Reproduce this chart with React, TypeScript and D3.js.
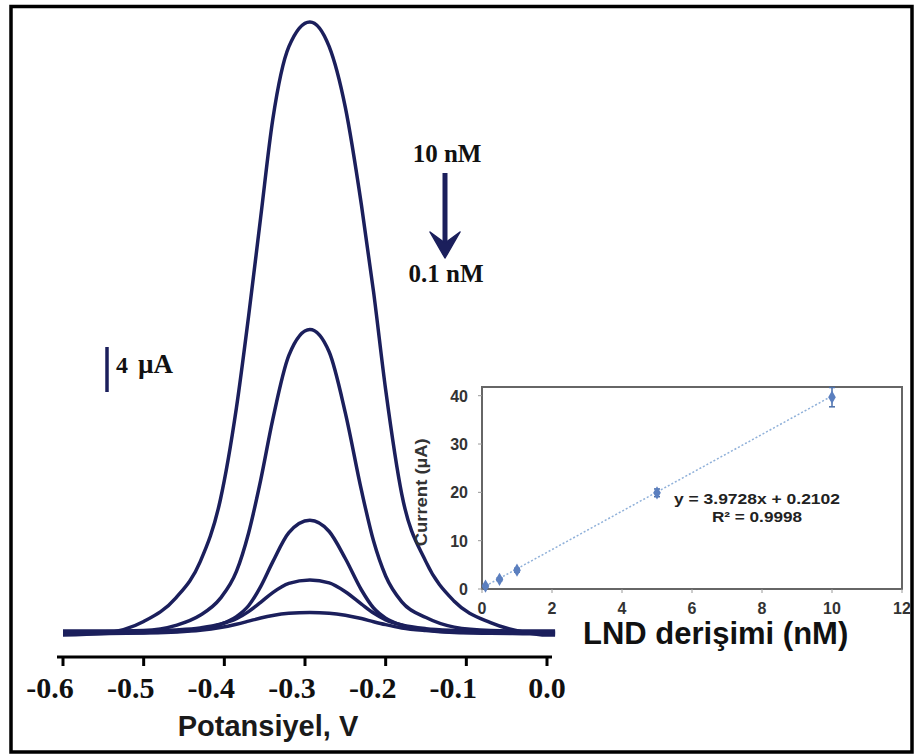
import * as d3 from 'd3';

// potansiyel ızgarası (V) — tüm eğriler için ortak
const potentials = [
  -0.6, -0.55, -0.5, -0.46, -0.43, -0.405, -0.385, -0.37, -0.355, -0.34, -0.32, -0.294,
  -0.27, -0.25, -0.23, -0.215, -0.2, -0.18, -0.15, -0.115, -0.07, -0.03, 0.0, 0.01,
];

// akım değerleri (µA), 10 nM → 0.1 nM
const current10 = [0, 0.16, 1.2, 3.3, 6.5, 12.0, 20.2, 28.3, 37.1, 45.8, 52.3, 54.5, 52.3, 46.9, 38.2, 30.5, 21.8, 12.5, 6.5, 3.0, 1.1, 0.27, 0, 0];
const current5 = [0, 0, 0.05, 0.5, 1.4, 2.9, 5.3, 8.7, 13.4, 18.8, 24.5, 26.8, 24.8, 19.4, 12.5, 8.0, 4.9, 2.6, 1.2, 0.35, 0.05, 0, 0, 0];
const current1 = [0, 0, 0.01, 0.1, 0.33, 0.75, 1.44, 2.4, 4.1, 6.3, 8.9, 10.0, 9.0, 6.6, 3.8, 2.2, 1.3, 0.68, 0.26, 0.06, 0, 0, 0, 0];
const current05 = [0, 0, 0.04, 0.15, 0.33, 0.65, 1.15, 1.78, 2.6, 3.47, 4.29, 4.6, 4.33, 3.55, 2.45, 1.65, 1.05, 0.6, 0.26, 0.1, 0.02, 0, 0, 0];
const current01 = [0, 0.02, 0.08, 0.17, 0.32, 0.56, 0.86, 1.13, 1.41, 1.64, 1.83, 1.9, 1.84, 1.66, 1.36, 1.08, 0.82, 0.53, 0.29, 0.12, 0.05, 0.015, 0, 0];
const baselineOffsets = [0.0, 0.35, 0.2, 0.3, 0.1];

const xTicks = [-0.6, -0.5, -0.4, -0.3, -0.2, -0.1, 0.0];

// kalibrasyon (inset)
const concentrations = [0.1, 0.5, 1, 5, 10];
const peakCurrents = [0.6, 2.0, 3.9, 19.9, 39.7];
const errors = [0.3, 0.3, 0.4, 0.8, 2.0];
const insetXTicks = [0, 2, 4, 6, 8, 10, 12];
const insetYTicks = [0, 10, 20, 30, 40];
const slope = 3.9728;
const intercept = 0.2102;

const NAVY = '#1b1f5c';
const SERIF = '"Liberation Serif", "Times New Roman", serif';
const SANS = '"Liberation Sans", Arial, sans-serif';

export default function App() {
  const xScale = d3.scaleLinear().domain([-0.6, 0]).range([63, 547]);
  const yScale = d3.scaleLinear().domain([0, 4]).range([635, 590]);

  const curves = [current10, current5, current1, current05, current01];
  const line = d3
    .line<[number, number]>()
    .x((d) => xScale(d[0]))
    .y((d) => yScale(d[1]))
    .curve(d3.curveMonotoneX);

  // inset ölçekleri
  const ix = d3.scaleLinear().domain([0, 12]).range([482, 902]);
  const iy = d3.scaleLinear().domain([0, 41.8]).range([589, 387]);

  const barPx = yScale(0) - yScale(4);

  return (
    <svg width={915} height={754} style={{ position: 'absolute', left: 0, top: 0, background: '#fff' }}>
      <rect x={0} y={0} width={915} height={754} fill="#fff" />
      {/* çerçeve */}
      <rect x={11} y={6.5} width={901} height={745.5} fill="none" stroke="#000" strokeWidth={3.5} />

      {/* voltamogramlar */}
      {curves.map((c, i) => (
        <path
          key={i}
          d={line(potentials.map((p, j) => [p, c[j] + baselineOffsets[i]] as [number, number])) || ''}
          fill="none"
          stroke={NAVY}
          strokeWidth={3.5}
        />
      ))}

      {/* x ekseni */}
      <line x1={57} x2={552} y1={657} y2={657} stroke="#000" strokeWidth={3} />
      {xTicks.map((t) => (
        <g key={t} transform={`translate(${xScale(t)},657)`}>
          <line y1={0} y2={9} stroke="#000" strokeWidth={3} />
          <text
            x={t < 0 ? -13 : 0}
            y={41}
            textAnchor="middle"
            fontFamily={SERIF}
            fontWeight="bold"
            fontSize={30}
            fill="#111"
          >
            {t.toFixed(1)}
          </text>
        </g>
      ))}
      <text x={268} y={736} textAnchor="middle" fontFamily={SANS} fontWeight="bold" fontSize={29} fill="#1a1a1a">
        Potansiyel, V
      </text>

      {/* 4 µA ölçek çubuğu */}
      <line x1={107} x2={107} y1={392 - barPx} y2={392} stroke={NAVY} strokeWidth={3.5} />
      <text x={116} y={373} fontFamily={SERIF} fontWeight="bold" fontSize={24} fill="#111">
        4
        <tspan x={138} fontSize={27}>µA</tspan>
      </text>

      {/* ok ve derişim etiketleri */}
      <text x={447} y={162} textAnchor="middle" fontFamily={SERIF} fontWeight="bold" fontSize={25} fill="#111">
        10 nM
      </text>
      <line x1={445} x2={445} y1={173} y2={244} stroke={NAVY} strokeWidth={5} />
      <path d="M430,232 L445,258 L460,232 L445,243 Z" fill={NAVY} stroke={NAVY} strokeWidth={1.5} strokeLinejoin="round" />
      <text x={446} y={282} textAnchor="middle" fontFamily={SERIF} fontWeight="bold" fontSize={25} fill="#111">
        0.1 nM
      </text>

      {/* inset kalibrasyon grafiği */}
      <rect x={482} y={387} width={420} height={202} fill="#fff" stroke="#666" strokeWidth={2} />
      {insetYTicks.map((t) => (
        <g key={t}>
          <line x1={478} x2={482} y1={iy(t)} y2={iy(t)} stroke="#999" strokeWidth={1} />
          <text
            x={468}
            y={iy(t) + 6}
            textAnchor="end"
            fontFamily={SANS}
            fontWeight="bold"
            fontSize={16}
            fill="#333"
          >
            {t}
          </text>
        </g>
      ))}
      {insetXTicks.map((t) => (
        <g key={t}>
          <line x1={ix(t)} x2={ix(t)} y1={589} y2={593} stroke="#999" strokeWidth={1} />
          <text x={ix(t)} y={614} textAnchor="middle" fontFamily={SANS} fontWeight="bold" fontSize={16} fill="#333">
            {t}
          </text>
        </g>
      ))}
      <text
        transform={`translate(427,${iy(20)}) rotate(-90)`}
        textAnchor="middle"
        fontFamily={SANS}
        fontWeight="bold"
        fontSize={16}
        textLength={108}
        lengthAdjust="spacingAndGlyphs"
        fill="#333"
      >
        Current (µA)
      </text>
      <line
        x1={ix(0.1)}
        y1={iy(slope * 0.1 + intercept)}
        x2={ix(10)}
        y2={iy(slope * 10 + intercept)}
        stroke="#8fb0d9"
        strokeWidth={1.5}
        strokeDasharray="2,2"
      />
      {concentrations.map((c, i) => (
        <g key={c}>
          <line
            x1={ix(c)}
            x2={ix(c)}
            y1={iy(peakCurrents[i] - errors[i])}
            y2={iy(peakCurrents[i] + errors[i])}
            stroke="#4a6ea8"
            strokeWidth={1.5}
          />
          <line x1={ix(c) - 3} x2={ix(c) + 3} y1={iy(peakCurrents[i] + errors[i])} y2={iy(peakCurrents[i] + errors[i])} stroke="#4a6ea8" strokeWidth={1.5} />
          <line x1={ix(c) - 3} x2={ix(c) + 3} y1={iy(peakCurrents[i] - errors[i])} y2={iy(peakCurrents[i] - errors[i])} stroke="#4a6ea8" strokeWidth={1.5} />
          <path
            transform={`translate(${ix(c)},${iy(peakCurrents[i])})`}
            d={d3.symbol(d3.symbolDiamond, 50)() || ''}
            fill="#5b7fbf"
          />
        </g>
      ))}
      <text
        x={757}
        y={504}
        textAnchor="middle"
        fontFamily={SANS}
        fontWeight="bold"
        fontSize={15}
        textLength={166}
        lengthAdjust="spacingAndGlyphs"
        fill="#222"
      >
        y = 3.9728x + 0.2102
      </text>
      <text
        x={757}
        y={522}
        textAnchor="middle"
        fontFamily={SANS}
        fontWeight="bold"
        fontSize={15}
        textLength={90}
        lengthAdjust="spacingAndGlyphs"
        fill="#222"
      >
        R² = 0.9998
      </text>

      <text x={583} y={644} fontFamily={SANS} fontWeight="bold" fontSize={31} fill="#111">
        LND derişimi (nM)
      </text>
    </svg>
  );
}
